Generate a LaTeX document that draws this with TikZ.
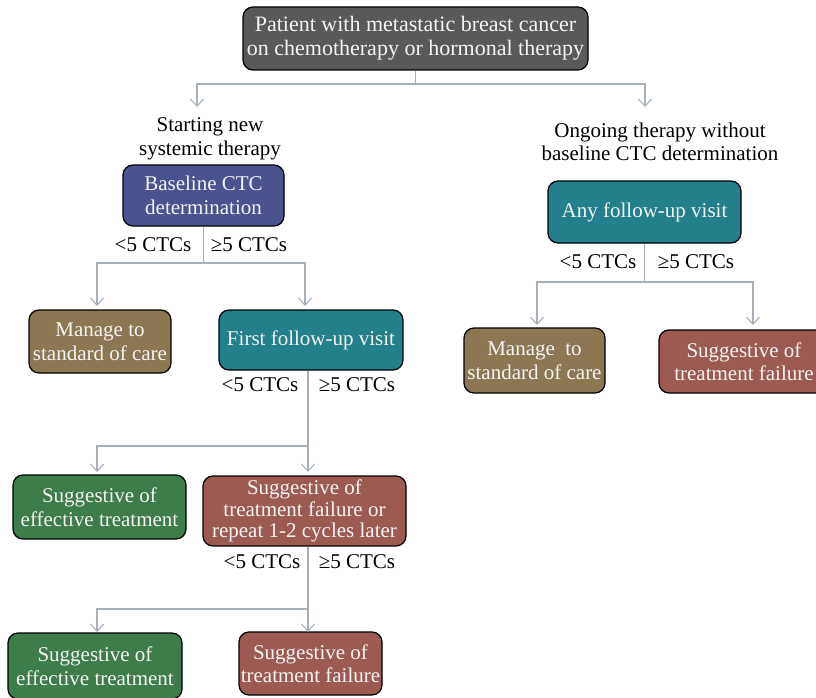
\documentclass[tikz,border=0pt]{standalone}
\usepackage{fontspec}
\setmainfont{Liberation Serif}
\usetikzlibrary{arrows.meta}
\definecolor{cgray}{HTML}{595959}
\definecolor{cblue}{HTML}{4B5290}
\definecolor{cteal}{HTML}{227F8B}
\definecolor{cbrown}{HTML}{8C7753}
\definecolor{cgreen}{HTML}{3C7D4B}
\definecolor{cred}{HTML}{9C5A53}
\definecolor{cline}{HTML}{A7B0B8}
\definecolor{ctext}{HTML}{F4F4F4}
\tikzset{
  box/.style={draw=black, line width=1.2pt, rounded corners=10pt, text=ctext, align=center,
    inner sep=0pt, font=\fontsize{21}{23.5}\selectfont},
  lbl/.style={text=black, align=center, inner sep=0pt, font=\fontsize{21}{23.5}\selectfont},
  conn/.style={draw=cline, line width=1.2pt, -{Straight Barb[length=7pt,width=13pt,line width=1.1pt]}},
  seg/.style={draw=cline, line width=1.2pt}
}
\begin{document}
\begin{tikzpicture}[x=1pt,y=-1pt]
\useasboundingbox (0,0) rectangle (816,698);
\begin{scope}
\clip (0,0) rectangle (816,698);
% nodes
\node[box, fill=cgray, minimum width=345pt, minimum height=63pt, font=\fontsize{22}{24}\selectfont] (top) at (415.5,38.5)
  {Patient with metastatic breast cancer\\on chemotherapy or hormonal therapy};
\node[lbl] (lstart) at (210,139) {Starting new\\systemic therapy};
\node[lbl] (lgoing) at (660,142) {Ongoing therapy without\\baseline CTC determination};
\node[box, fill=cblue, minimum width=161pt, minimum height=61pt] (base) at (203.5,195.5)
  {Baseline CTC\\determination};
\node[box, fill=cbrown, minimum width=142pt, minimum height=63pt] (man1) at (100,341.5)
  {Manage to\\standard of care};
\node[box, fill=cteal, minimum width=184pt, minimum height=60pt] (first) at (311,340)
  {First follow-up visit};
\node[box, fill=cgreen, minimum width=173pt, minimum height=64pt] (eff1) at (99.5,507)
  {Suggestive of\\effective treatment};
\node[box, fill=cred, minimum width=203pt, minimum height=70pt, font=\fontsize{21}{21.5}\selectfont] (fail1) at (304.5,511)
  {Suggestive of\\treatment failure or\\repeat 1-2 cycles later};
\node[box, fill=cgreen, minimum width=174pt, minimum height=66pt] (eff2) at (95,666)
  {Suggestive of\\effective treatment};
\node[box, fill=cred, minimum width=143pt, minimum height=63pt] (fail2) at (310.5,663.5)
  {Suggestive of\\treatment failure};
\node[box, fill=cteal, minimum width=193pt, minimum height=62pt] (any) at (644.5,212)
  {Any follow-up visit};
\node[box, fill=cbrown, minimum width=141pt, minimum height=65pt] (man2) at (534.5,360.5)
  {Manage\ \ to\\standard of care};
\node[box, fill=cred, minimum width=170pt, minimum height=63pt] (fail3) at (744,361.5)
  {Suggestive of\\treatment failure};
% branch labels
\node[lbl] (l1a) at (153,245) {<5 CTCs};
\node[lbl] (l1b) at (249,245) {≥5 CTCs};
\node[lbl] (l2a) at (260,385) {<5 CTCs};
\node[lbl] (l2b) at (357,385) {≥5 CTCs};
\node[lbl] (l3a) at (262,562) {<5 CTCs};
\node[lbl] (l3b) at (357,562) {≥5 CTCs};
\node[lbl] (l4a) at (598,262) {<5 CTCs};
\node[lbl] (l4b) at (696,262) {≥5 CTCs};
% coordinates
\coordinate (b0) at (415.5,84);
\coordinate (a0l) at (197,107);
\coordinate (a0r) at (645,107);
\coordinate (b1) at (203.5,263);
\coordinate (a1l) at (97,306);
\coordinate (a1r) at (305,306);
\coordinate (b2) at (308,446);
\coordinate (a2l) at (97,472);
\coordinate (a2r) at (308,472);
\coordinate (b3) at (308,609);
\coordinate (a3l) at (97,632);
\coordinate (a3r) at (308,632);
\coordinate (b4) at (644.5,282);
\coordinate (a4l) at (537,325);
\coordinate (a4r) at (753,325);
% connectors
\draw[seg] (top.south) -- (b0);
\draw[conn] (b0) -| (a0l);
\draw[conn] (b0) -| (a0r);
\draw[seg] (base.south) -- (b1);
\draw[conn] (b1) -| (a1l);
\draw[conn] (b1) -| (a1r);
\draw[seg] (first.south -| b2) -- (b2);
\draw[conn] (b2) -| (a2l);
\draw[conn] (b2) -- (a2r);
\draw[seg] (fail1.south -| b3) -- (b3);
\draw[conn] (b3) -| (a3l);
\draw[conn] (b3) -- (a3r);
\draw[seg] (any.south) -- (b4);
\draw[conn] (b4) -| (a4l);
\draw[conn] (b4) -| (a4r);
\end{scope}
\end{tikzpicture}
\end{document}
